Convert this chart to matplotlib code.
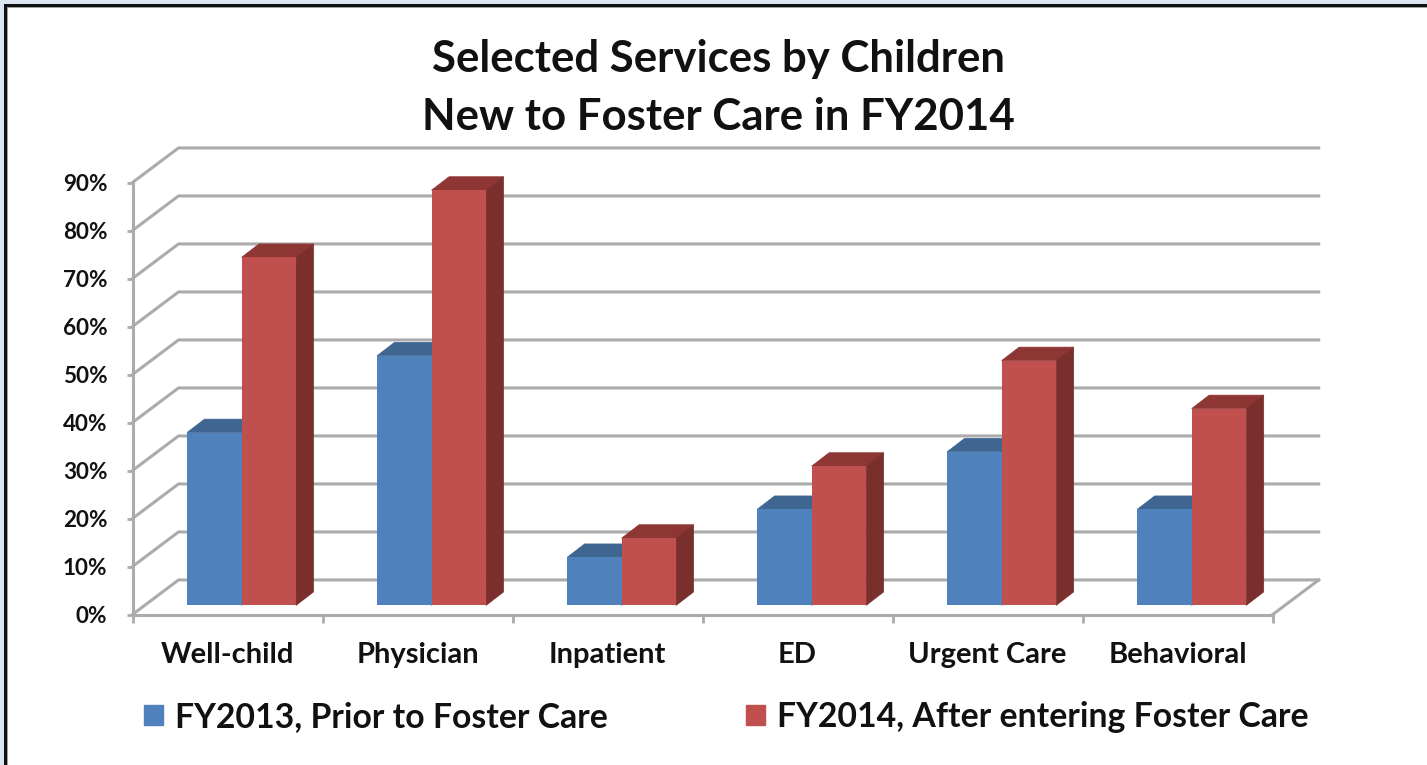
import matplotlib
matplotlib.use("Agg")
import matplotlib.pyplot as plt
from matplotlib.patches import Patch, Rectangle

categories = ["Well-child", "Physician", "Inpatient", "ED", "Urgent Care", "Behavioral"]
fy2013 = [36, 52, 10, 20, 32, 20]
fy2014 = [72.5, 86.5, 14, 29, 51, 41]
y_ticks = [0, 10, 20, 30, 40, 50, 60, 70, 80, 90]
y_labels = ["0%", "10%", "20%", "30%", "40%", "50%", "60%", "70%", "80%", "90%"]
series_names = ["FY2013, Prior to Foster Care", "FY2014, After entering Foster Care"]

W, H = 1427, 765
BLUE, BLUE_TOP = "#4F81BD", "#3F6690"
RED, RED_TOP, RED_SIDE = "#C0504D", "#8E3634", "#7B2F2D"
GRID = "#ABABAB"

plt.rcParams["font.family"] = ["Lato", "DejaVu Sans"]
plt.rcParams["font.weight"] = "bold"

fig = plt.figure(figsize=(W / 100, H / 100), dpi=100, facecolor="#DCE6F2")

# white panel with the dark frame on top and left
fig.add_artist(Rectangle((4 / W, 0), 1, 1 - 4 / H, transform=fig.transFigure, fc="#111111", ec="none", zorder=-3))
fig.add_artist(Rectangle((6.5 / W, 0), 1, 1 - 6.5 / H, transform=fig.transFigure, fc="#A0A0A0", ec="none", zorder=-2))
fig.add_artist(Rectangle((8 / W, 0), 1, 1 - 8 / H, transform=fig.transFigure, fc="white", ec="none", zorder=-1))

ax = fig.add_axes([132.5 / W, 1 - 614.5 / H, (1272.7 - 132.5) / W, 432 / H])
ax.set_facecolor("none")
ax.set_xlim(0, 6)
ax.set_ylim(0, 90)

# fake 3d: how far the back wall is shifted, in data units
wall_dx = 46 / 190
wall_dy = 7.2
bar_dx = 17.5 / 190
bar_dy = 2.8
floor_x = 14 / 190
floor_y = 1.9
bar_w = 54.5 / 190
gap = (1 - 2 * bar_w) / 2

for v in y_ticks:
    ax.plot([0, wall_dx, 6 + wall_dx], [v, v + wall_dy, v + wall_dy], color=GRID, lw=2.2, clip_on=False, zorder=1)
ax.plot([6, 6 + wall_dx], [0, wall_dy], color=GRID, lw=2.2, clip_on=False, zorder=1)


def draw_bar(left, value, front, top, side, z):
    x0 = left + floor_x
    x1 = x0 + bar_w
    y1 = floor_y + value
    ax.fill([x0, x0 + bar_dx, x1 + bar_dx, x1], [y1, y1 + bar_dy, y1 + bar_dy, y1],
            color=top, lw=0.5, zorder=z, clip_on=False)
    ax.fill([x1, x1 + bar_dx, x1 + bar_dx, x1], [floor_y, floor_y + bar_dy, y1 + bar_dy, y1],
            color=side, lw=0.5, zorder=z, clip_on=False)
    ax.bar(x0, value, bar_w, bottom=floor_y, align="edge", color=front, zorder=z, clip_on=False)


for i in range(len(categories)):
    draw_bar(i + gap, fy2013[i], BLUE, BLUE_TOP, BLUE_TOP, 3)
    draw_bar(i + gap + bar_w, fy2014[i], RED, RED_TOP, RED_SIDE, 4)

for s in ["top", "right"]:
    ax.spines[s].set_visible(False)
for s in ["left", "bottom"]:
    ax.spines[s].set_color(GRID)
    ax.spines[s].set_linewidth(2.2)
    ax.spines[s].set_zorder(5)

ax.set_yticks(y_ticks)
ax.set_yticklabels(y_labels, fontsize=16.2)
ax.tick_params(axis="y", length=4, width=2, color=GRID, pad=14, labelcolor="#111111")
ax.set_xticks(range(7))
ax.set_xticklabels([""] * 7)
ax.set_xticks([i + 0.5 for i in range(6)], minor=True)
ax.set_xticklabels(categories, minor=True, fontsize=21)
ax.tick_params(axis="x", which="major", length=6, width=2, color=GRID)
ax.tick_params(axis="x", which="minor", length=0, pad=20, labelcolor="#111111")

fig.text(718.5 / W, 1 - 88 / H, "Selected Services by Children\nNew to Foster Care in FY2014",
         ha="center", va="center", fontsize=31.5, linespacing=1.52, color="#111111")

handles = [Patch(color=BLUE), Patch(color=RED)]
fig.legend(handles, series_names, ncol=2, frameon=False, fontsize=24.3,
           loc="center", bbox_to_anchor=(726.5 / W, 1 - 717 / H),
           handlelength=0.56, handleheight=0.56, handletextpad=0.36, columnspacing=4.1,
           labelcolor="#111111")

fig.savefig("out.png", dpi=100, facecolor=fig.get_facecolor())
